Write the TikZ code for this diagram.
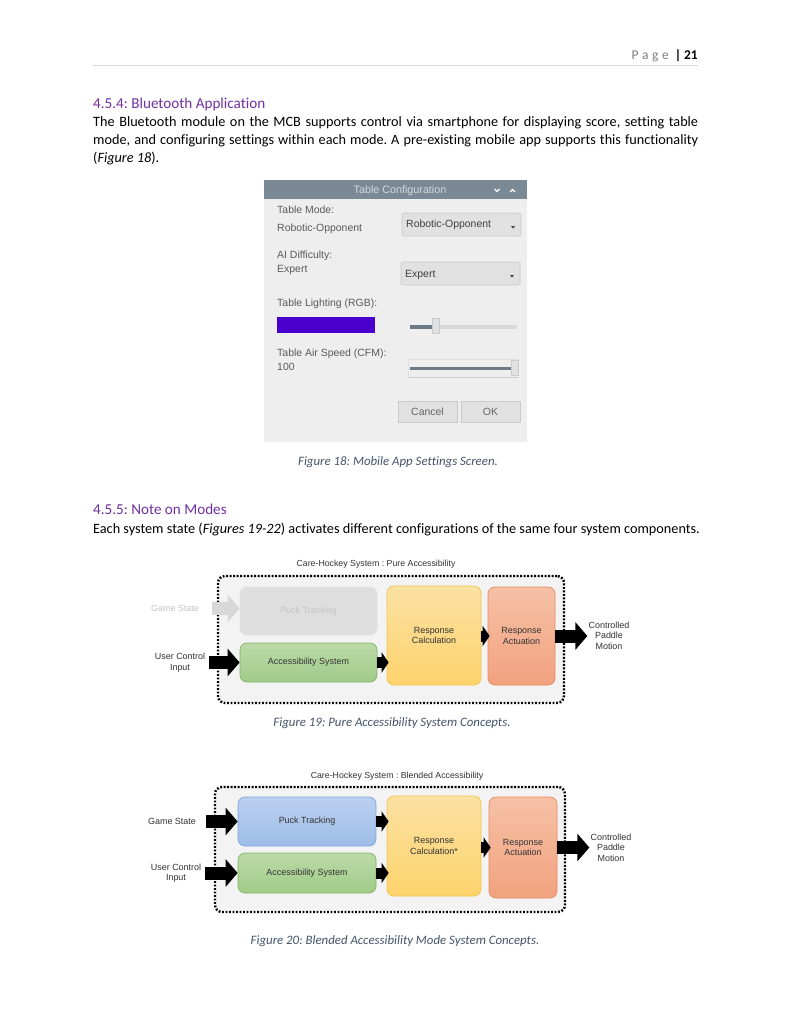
\documentclass[tikz,border=0pt]{standalone}
\usepackage{fontspec}
\setmainfont{Carlito}[Ligatures=NoCommon]
\newfontfamily\dia{Liberation Sans}
\usetikzlibrary{arrows.meta}
\frenchspacing
\definecolor{headc}{HTML}{7030A0}
\definecolor{capc}{HTML}{44546A}
\definecolor{pagegray}{HTML}{7F7F7F}
\definecolor{rulec}{HTML}{D9D9D9}
\definecolor{barc}{HTML}{7A8995}
\definecolor{bartxt}{HTML}{D3DAE0}
\definecolor{uibg}{HTML}{EEEEEE}
\definecolor{uitxt}{HTML}{5A5A5A}
\definecolor{uibox}{HTML}{E1E1E1}
\definecolor{uiline}{HTML}{CACACA}
\definecolor{slider}{HTML}{6E7B87}
\definecolor{track}{HTML}{D6DADD}
\definecolor{rgbc}{HTML}{4A00CC}
\definecolor{contfill}{HTML}{F3F3F3}
\definecolor{dtext}{HTML}{333333}
\definecolor{fadefill}{HTML}{DEDEDE}
\definecolor{fadetxt}{HTML}{C4C4C4}
\definecolor{fadearr}{HTML}{D8D8D8}
\definecolor{grtop}{HTML}{BBDAA8}
\definecolor{grbot}{HTML}{A0CB88}
\definecolor{grdraw}{HTML}{82B366}
\definecolor{bltop}{HTML}{BBD0EF}
\definecolor{blbot}{HTML}{9EBDE7}
\definecolor{bldraw}{HTML}{7EA6E0}
\definecolor{yetop}{HTML}{FBE1A2}
\definecolor{yebot}{HTML}{FDD36C}
\definecolor{yedraw}{HTML}{F3C54E}
\definecolor{satop}{HTML}{F6C1A6}
\definecolor{sabot}{HTML}{F2A27F}
\definecolor{sadraw}{HTML}{E58A62}
\begin{document}
\begin{tikzpicture}[x=1bp,y=-1bp,
  bodytxt/.style={anchor=base west, inner sep=0pt, font=\fontsize{14.3}{17}\selectfont},
  headtxt/.style={anchor=base west, inner sep=0pt, text=headc, font=\fontsize{15.2}{18}\selectfont},
  captxt/.style={anchor=base, inner sep=0pt, text=capc, font=\fontsize{12.9}{15}\selectfont\itshape},
  uitext/.style={anchor=west, inner sep=0pt, text=uitxt, font=\dia\fontsize{10.5}{12}\selectfont},
  uibtn/.style={draw=uiline, fill=uibox, line width=0.6bp, inner sep=0pt},
  dtxt/.style={font=\dia\fontsize{9}{10.6}\selectfont, align=center, inner sep=1bp, text=dtext},
  ttl/.style={font=\dia\fontsize{8.8}{10}\selectfont, inner sep=1bp, text=dtext},
  cont/.style={draw=black, fill=contfill, rounded corners=7bp, line width=2.4bp, dash pattern=on 1.8bp off 1.7bp},
  blk/.style={rounded corners=7bp, line width=0.7bp, font=\dia\fontsize{9}{10.6}\selectfont, align=center, text=dtext, inner sep=0pt},
  bigarr/.style={line width=13bp, -{Triangle[length=12bp,width=27bp]}},
  smallarr/.style={line width=11bp, -{Triangle[length=7bp,width=20bp]}}
]
\useasboundingbox (0,0) rectangle (792,1024);
\fill[white] (0,0) rectangle (792,1024);

% ---------- header ----------
\node[anchor=base east, inner sep=0pt, font=\fontsize{13.5}{16}\selectfont] (hdr) at (698,59)
  {{\color{pagegray}P\hspace{3.6bp}a\hspace{3.6bp}g\hspace{3.6bp}e}\hspace{6bp}\textbf{|\hspace{3bp}21}};
\draw[rulec, line width=0.8bp] (93,65) -- (698,65);

% ---------- section 4.5.4 ----------
\node[headtxt] (h1) at (93,108) {4.5.4: Bluetooth Application};
\node[bodytxt] (p1) at (93,126) {\hbox to 605bp{The Bluetooth module on the MCB supports control via smartphone for displaying score, setting table}};
\node[bodytxt] (p2) at (93,144) {\hbox to 605bp{mode, and configuring settings within each mode. A pre-existing mobile app supports this functionality}};
\node[bodytxt] (p3) at (93,162) {(\textit{Figure 18}).};

% ---------- settings screen ----------
\fill[uibg] (264,180) rectangle (527,442);
\fill[barc] (264,180) rectangle (527,199);
\node[inner sep=0pt, text=bartxt, font=\dia\fontsize{10.8}{12}\selectfont] (bar) at (400,190.5) {Table Configuration};
\draw[white, line width=1.1bp] (494.5,189) -- (497,191.5) -- (499.5,189);
\draw[white, line width=1.1bp] (510,192) -- (512.5,189.5) -- (515,192);

\node[uitext] (l1) at (277,209.5) {Table Mode:};
\node[uitext] (l2) at (277,229) {Robotic-Opponent};
\draw[uibtn, rounded corners=1.5bp] (402,213) rectangle (521,236);
\node[uitext, text=black!75] (d1) at (406,225) {Robotic-Opponent};
\fill[black!70] (511,226.2) -- (515,226.2) -- (513,228.6) -- cycle;

\node[uitext] (l3) at (277,256) {AI Difficulty:};
\node[uitext] (l4) at (277,270) {Expert};
\draw[uibtn, rounded corners=1.5bp] (401,262) rectangle (520,285);
\node[uitext, text=black!75] (d2) at (405,274.5) {Expert};
\fill[black!70] (510,275.2) -- (514,275.2) -- (512,277.6) -- cycle;

\node[uitext] (l5) at (277,304) {Table Lighting (RGB):};
\fill[rgbc] (277,317) rectangle (375,333);
\fill[track] (410,325) rectangle (517,328.5);
\fill[slider] (410,325) rectangle (434,328.5);
\draw[uibtn] (432,318.5) rectangle (439,333);

\node[uitext] (l6) at (277,353.5) {Table Air Speed (CFM):};
\node[uitext] (l7) at (277,367) {100};
\draw[black!12, line width=0.7bp] (408,377) -- (408,359) -- (518,359);
\draw[black!20, line width=0.7bp] (408,377) -- (518,377);
\fill[slider] (410,366.5) rectangle (512,370);
\draw[uibtn] (511.5,360) rectangle (518,375.5);

\draw[uibtn] (398,401) rectangle (457,422);
\node[uitext, anchor=center, text=black!60] (bc) at (427.5,411.5) {Cancel};
\draw[uibtn] (461,401) rectangle (520,422);
\node[uitext, anchor=center, text=black!60] (bo) at (490.5,411.5) {OK};

\node[captxt] (cap18) at (398,465) {Figure 18: Mobile App Settings Screen.};

% ---------- section 4.5.5 ----------
\node[headtxt] (h2) at (93,514) {4.5.5: Note on Modes};
\node[bodytxt] (p4) at (93,533) {Each system state (\textit{Figures 19-22}) activates different configurations of the same four system components.};

% ---------- Figure 19 ----------
\node[ttl] (t1) at (376,564) {Care-Hockey System : Pure Accessibility};
\node[cont, minimum width=346bp, minimum height=127bp] (c1) at (391,639.5) {};
\node[blk, draw=black!12, fill=fadefill, text=fadetxt, minimum width=137bp, minimum height=48bp] (pt1) at (308.5,611) {Puck Tracking};
\node[blk, draw=grdraw, top color=grtop, bottom color=grbot, minimum width=137bp, minimum height=39bp] (as1) at (308.5,662.5) {Accessibility System};
\node[blk, draw=yedraw, top color=yetop, bottom color=yebot, minimum width=94bp, minimum height=99bp] (rc1) at (434,635.5) {Response\\Calculation};
\node[blk, draw=sadraw, top color=satop, bottom color=sabot, minimum width=67bp, minimum height=98bp] (ra1) at (521.5,636) {Response\\Actuation};
\node[dtxt, text=fadetxt] (gs1) at (175,608.5) {Game State};
\node[dtxt] (uci1) at (180,662.5) {User Control\\Input};
\node[dtxt] (cpm1) at (609,635.5) {Controlled\\Paddle\\Motion};

\draw[bigarr, fadearr] ([xshift=12bp]gs1.east) -- (gs1.east -| pt1.west);
\draw[bigarr] ([xshift=3bp]uci1.east) -- (uci1.east -| as1.west);
\draw[smallarr] (as1.east) -- ([xshift=2bp]as1.east -| rc1.west);
\draw[smallarr] (rc1.east |- ra1.west) -- ([xshift=2bp]ra1.west);
\draw[bigarr] (ra1.east) -- (ra1.east -| cpm1.west);

\node[captxt] (cap19) at (392,726) {Figure 19: Pure Accessibility System Concepts.};

% ---------- Figure 20 ----------
\node[ttl] (t2) at (397,776) {Care-Hockey System : Blended Accessibility};
\node[cont, minimum width=350bp, minimum height=125bp] (c2) at (390,849.5) {};
\node[blk, draw=bldraw, top color=bltop, bottom color=blbot, minimum width=138bp, minimum height=49bp] (pt2) at (307,821.5) {Puck Tracking};
\node[blk, draw=grdraw, top color=grtop, bottom color=grbot, minimum width=138bp, minimum height=40bp] (as2) at (307,873) {Accessibility System};
\node[blk, draw=yedraw, top color=yetop, bottom color=yebot, minimum width=94bp, minimum height=100bp] (rc2) at (434,846) {Response\\Calculation*};
\node[blk, draw=sadraw, top color=satop, bottom color=sabot, minimum width=68bp, minimum height=101bp] (ra2) at (523,847.5) {Response\\Actuation};
\node[dtxt] (gs2) at (172,821.5) {Game State};
\node[dtxt] (uci2) at (176,873) {User Control\\Input};
\node[dtxt] (cpm2) at (611,847.5) {Controlled\\Paddle\\Motion};

\draw[bigarr] ([xshift=9bp]gs2.east) -- (gs2.east -| pt2.west);
\draw[bigarr] ([xshift=3bp]uci2.east) -- (uci2.east -| as2.west);
\draw[smallarr] (pt2.east) -- ([xshift=2bp]pt2.east -| rc2.west);
\draw[smallarr] (as2.east) -- ([xshift=2bp]as2.east -| rc2.west);
\draw[smallarr] (rc2.east |- ra2.west) -- ([xshift=2bp]ra2.west);
\draw[bigarr] (ra2.east) -- (ra2.east -| cpm2.west);

\node[captxt] (cap20) at (395,944) {Figure 20: Blended Accessibility Mode System Concepts.};
\end{tikzpicture}
\end{document}
